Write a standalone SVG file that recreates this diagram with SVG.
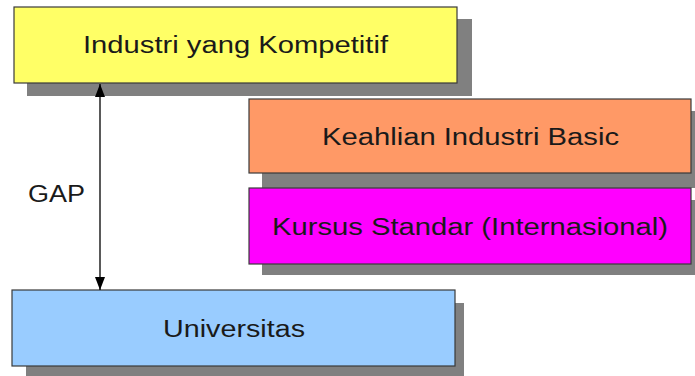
<svg xmlns="http://www.w3.org/2000/svg" width="695" height="376" viewBox="0 0 695 376">
<style>
.sh{fill:#808080}
.box{stroke:#3a3a3a;stroke-width:1.2}
.t{font-family:"Liberation Sans",Arial,sans-serif;font-size:23px;fill:#1a1a1a;text-anchor:middle}
.c{stroke:#000;stroke-width:1.3;fill:none}
</style>
<defs>
<marker id="ah" viewBox="0 0 13 10" refX="13" refY="5" markerWidth="13" markerHeight="10" markerUnits="userSpaceOnUse" orient="auto-start-reverse">
<path d="M0,0 L13,5 L0,10 z" fill="#000"/>
</marker>
</defs>
<rect width="695" height="376" fill="#fff"/>
<g id="industri">
<rect class="sh" x="27" y="19" width="445" height="77"/>
<rect class="box" x="14" y="7" width="443" height="76" fill="#FFFF66"/>
<text class="t" x="235.5" y="53" textLength="305" lengthAdjust="spacingAndGlyphs">Industri yang Kompetitif</text>
</g>
<g id="keahlian">
<rect class="sh" x="262" y="111" width="433" height="77"/>
<rect class="box" x="249" y="99" width="442" height="74" fill="#FF9966"/>
<text class="t" x="470.5" y="145" textLength="297" lengthAdjust="spacingAndGlyphs">Keahlian Industri Basic</text>
</g>
<g id="kursus">
<rect class="sh" x="262" y="200" width="433" height="75"/>
<rect class="box" x="249" y="188" width="442" height="76" fill="#FF00FF"/>
<text class="t" x="470" y="235" textLength="396" lengthAdjust="spacingAndGlyphs">Kursus Standar (Internasional)</text>
</g>
<g id="universitas">
<rect class="sh" x="26" y="303" width="438" height="76"/>
<rect class="box" x="12" y="290" width="443" height="76" fill="#99CCFF"/>
<text class="t" x="234" y="337" textLength="142" lengthAdjust="spacingAndGlyphs">Universitas</text>
</g>
<g id="connectors">
<line class="c" x1="100" y1="84" x2="100" y2="290" marker-start="url(#ah)" marker-end="url(#ah)"/>
<text class="t" x="56.5" y="202" textLength="57" lengthAdjust="spacingAndGlyphs">GAP</text>
</g>
</svg>
